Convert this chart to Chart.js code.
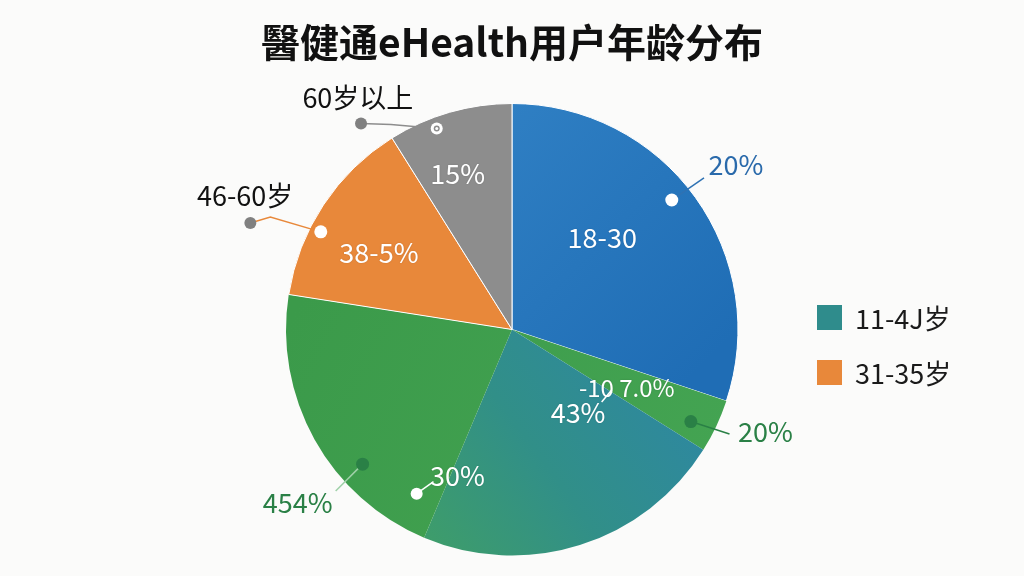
<!DOCTYPE html>
<html><head><meta charset="utf-8">
<script src="https://cdn.jsdelivr.net/npm/chart.js@4.4.1/dist/chart.umd.min.js"></script>
<style>
html,body{margin:0;padding:0;background:#fbfbfa;}
#wrap{width:1024px;height:576px;position:relative;}
</style></head>
<body><div id="wrap"><canvas id="c" width="1024" height="576"></canvas></div>
<script>
const titleText = "醫健通eHealth用户年龄分布";
const categories = ["18-30", "-10 7.0%", "11-4J岁", "454%", "46-60岁", "60岁以上"];
const shares = [30.1, 3.8, 22.4, 21.1, 13.6, 8.9];
const insideTexts = ["18-30", "-10 7.0%", "43%", "30%", "38-5%", "15%"];
const insideSlice = [0, 1, 2, 2, 4, 5];
const outerTexts = ["20%", "20%", "454%", "46-60岁", "60岁以上"];
const outerSlice = [0, 1, 3, 4, 5];
const legendTexts = ["11-4J岁", "31-35岁"];
const legendSlice = [2, 4];

const FONT = '"Noto Sans CJK SC","Noto Sans",sans-serif';

function sliceColor(ctx) {
  const i = ctx.dataIndex;
  const chart = ctx.chart;
  const c = chart.ctx;
  const flat = ['#2a78bd', '#3fa04f', '#2f8c8c', '#3f9e4c', '#e8883a', '#8d8d8d'];
  const area = chart.chartArea;
  if (!area) return flat[i];
  const cx = (area.left + area.right) / 2, cy = (area.top + area.bottom) / 2;
  const R = Math.min(area.right - area.left, area.bottom - area.top) / 2;
  let g;
  if (i === 0) {
    g = c.createLinearGradient(cx, cy - R, cx + R, cy);
    g.addColorStop(0, '#2f7fc3'); g.addColorStop(1, '#1f6db5');
    return g;
  }
  if (i === 2) {
    g = c.createLinearGradient(cx + R * 0.7, cy + R * 0.2, cx - R * 0.4, cy + R);
    g.addColorStop(0, '#2e88a0'); g.addColorStop(0.5, '#318f88'); g.addColorStop(1, '#3f9e68');
    return g;
  }
  if (i === 1 || i === 3) {
    g = c.createLinearGradient(cx - R, cy, cx + R, cy + R);
    g.addColorStop(0, '#3b9a4a'); g.addColorStop(1, '#45a553');
    return g;
  }
  return flat[i];
}

const labelPlugin = {
  id: 'sliceLabels',
  afterDatasetsDraw(chart, args, opts) {
    const c = chart.ctx;
    const arcs = chart.getDatasetMeta(0).data;
    function pt(i, t, rf) {
      const a = arcs[i];
      const ang = a.startAngle + t * (a.endAngle - a.startAngle);
      return { x: a.x + Math.cos(ang) * rf * a.outerRadius, y: a.y + Math.sin(ang) * rf * a.outerRadius };
    }
    function dot(p, r, fill, stroke) {
      c.beginPath(); c.arc(p.x, p.y, r, 0, Math.PI * 2);
      c.fillStyle = fill; c.fill();
      if (stroke) { c.lineWidth = 1.5; c.strokeStyle = stroke; c.stroke(); }
    }
    function line(pts, color, w) {
      c.beginPath(); c.moveTo(pts[0].x, pts[0].y);
      for (let k = 1; k < pts.length; k++) c.lineTo(pts[k].x, pts[k].y);
      c.strokeStyle = color; c.lineWidth = w || 1.5; c.stroke();
    }
    c.save();
    c.textAlign = 'center'; c.textBaseline = 'middle';
    opts.inside.forEach((s, k) => {
      const p = pt(insideSlice[k], s.t, s.rf);
      c.font = (s.size || 27) + 'px ' + FONT;
      c.fillStyle = '#ffffff';
      c.shadowColor = 'rgba(0,0,0,0.15)'; c.shadowBlur = 2;
      c.fillText(insideTexts[k], p.x, p.y);
      c.shadowBlur = 0;
    });
    const d30 = pt(2, 1.09, 0.84), t30 = pt(2, 0.97, 0.69);
    line([d30, {x: t30.x - 24, y: t30.y + 6}], '#ffffff', 1.5);
    dot(d30, 6, '#ffffff');
    const a1 = pt(1, 0.55, 0.53);
    line([{x: a1.x - 8, y: a1.y + 8}, {x: a1.x - 18, y: a1.y + 20}], '#ffffff', 1.5);
    opts.outer.forEach((s, k) => {
      const i = outerSlice[k];
      const d = pt(i, s.dotT, s.dotRf);
      const tp = pt(i, s.textT, s.textRf);
      if (s.knob) {
        const kp = pt(i, s.knob.t, s.knob.rf);
        line([kp, {x: kp.x + s.knob.dx, y: kp.y + s.knob.dy}, d], s.lineColor, 1.5);
        dot(kp, 6, '#808080');
      } else {
        line([d, {x: tp.x + s.lx, y: tp.y + s.ly}], s.lineColor, 1.5);
      }
      if (s.ring) { dot(d, 6, '#ffffff'); dot(d, 3, '#8d8d8d'); dot(d, 1.5, '#ffffff'); }
      else dot(d, 6.5, s.dotColor);
      c.font = '27px ' + FONT;
      c.fillStyle = s.color;
      c.fillText(outerTexts[k], tp.x, tp.y);
    });
    c.textAlign = 'left';
    opts.legend.forEach((s, k) => {
      c.fillStyle = s.color;
      c.fillRect(s.x, s.y, 25, 25);
      c.font = '27px ' + FONT;
      c.fillStyle = '#1a1a1a';
      c.fillText(legendTexts[k], s.x + 38, s.y + 14);
    });
    c.textAlign = 'center';
    c.font = 'bold 39px ' + FONT;
    c.fillStyle = '#111111';
    c.fillText(titleText, 512, 42);
    c.restore();
  }
};

new Chart(document.getElementById('c'), {
  type: 'pie',
  data: {
    labels: categories,
    datasets: [{
      data: shares,
      backgroundColor: sliceColor,
      borderColor: '#ffffff',
      borderWidth: [1, 0, 0, 0, 1, 1]
    }]
  },
  options: {
    responsive: false,
    animation: false,
    layout: { padding: { top: 103, bottom: 20, left: 0, right: 0 } },
    plugins: {
      legend: { display: false },
      tooltip: { enabled: false },
      title: { display: false },
      sliceLabels: {
        inside: [
          { t: 0.41, rf: 0.57 },
          { t: 0.62, rf: 0.57, size: 24 },
          { t: 0.24, rf: 0.47 },
          { t: 0.97, rf: 0.69 },
          { t: 0.43, rf: 0.68 },
          { t: 0.40, rf: 0.73 }
        ],
        outer: [
          { dotT: 0.47, dotRf: 0.91, textT: 0.495, textRf: 1.23, lx: -32, ly: 13, dotColor: '#ffffff', lineColor: '#2f72b3', color: '#2a6aab' },
          { dotT: 0.64, dotRf: 0.89, textT: 0.26, textRf: 1.21, lx: -36, ly: 2, dotColor: '#2a8046', lineColor: '#2a8046', color: '#2a8046' },
          { dotT: 0.33, dotRf: 0.89, textT: 0.37, textRf: 1.22, lx: 38, ly: -12, dotColor: '#2a8046', lineColor: '#9fd0a8', color: '#2a8046' },
          { dotT: 0.37, dotRf: 0.95, textT: 0.36, textRf: 1.32, knob: { t: 0.27, rf: 1.25, dx: 20, dy: -6 }, dotColor: '#ffffff', lineColor: '#e8883a', color: '#111111' },
          { dotT: 0.36, dotRf: 0.95, textT: -0.05, textRf: 1.23, knob: { t: -0.13, rf: 1.13, dx: 30, dy: 1 }, ring: true, dotColor: '#ffffff', lineColor: '#8d8d8d', color: '#111111' }
        ],
        legend: [
          { x: 817, y: 305, color: '#2f8c8c' },
          { x: 817, y: 360, color: '#e8883a' }
        ]
      }
    }
  },
  plugins: [labelPlugin]
});
</script></body></html>
